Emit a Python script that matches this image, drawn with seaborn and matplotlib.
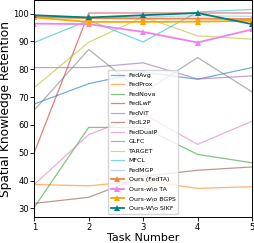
import seaborn as sns
import pandas as pd
import matplotlib
matplotlib.use("Agg")
import matplotlib.pyplot as plt

# values
tasks = [1, 2, 3, 4, 5]

fedavg = [67.5, 74.8, 79.0, 76.4, 80.6]
fedprox = [38.6, 38.1, 40.0, 37.2, 37.8]
fednova = [30.4, 59.1, 59.1, 49.4, 46.4]
fedlwf = [50.1, 100.2, 100.2, 100.2, 100.2]
fedvit = [80.6, 80.6, 82.3, 76.5, 77.6]
fedl2p = [31.8, 34.0, 41.5, 43.7, 44.9]
feddualp = [38.6, 56.5, 64.0, 53.0, 61.3]
glfc = [65.3, 87.1, 71.5, 84.2, 71.9]
target = [73.4, 89.7, 98.8, 92.0, 90.8]
mfcl = [89.6, 97.6, 89.8, 100.6, 101.5]
fedmgp = [98.8, 98.2, 98.8, 99.2, 99.0]
ours = [98.8, 98.4, 98.2, 98.2, 98.0]
ours_wo_ta = [96.4, 96.2, 93.4, 89.6, 94.3]
ours_wo_bgps = [98.6, 97.0, 97.0, 97.1, 97.4]
ours_wo_sikf = [99.4, 98.6, 99.4, 100.2, 96.2]

baselines = [
    ("FedAvg", fedavg, "tab:blue", 0.6),
    ("FedProx", fedprox, "tab:orange", 0.6),
    ("FedNova", fednova, "tab:green", 0.6),
    ("FedLwF", fedlwf, "tab:red", 0.6),
    ("FedViT", fedvit, "tab:purple", 0.6),
    ("FedL2P", fedl2p, "tab:brown", 0.6),
    ("FedDualP", feddualp, "tab:pink", 0.6),
    ("GLFC", glfc, "tab:gray", 0.6),
    ("TARGET", target, "tab:olive", 0.6),
    ("MFCL", mfcl, "tab:cyan", 0.6),
    ("FedMGP", fedmgp, "tab:blue", 0.3),
]

ours_lines = [
    ("Ours (FedTA)", ours, "#f5853f"),
    ("Ours-w\\o TA", ours_wo_ta, "violet"),
    ("Ours-w\\o BGPS", ours_wo_bgps, "orange"),
    ("Ours-W\\o SIKF", ours_wo_sikf, "teal"),
]

fig = plt.figure(figsize=(2.54, 2.43), dpi=100)
ax = fig.add_axes([0.135, 0.108, 0.857, 0.89])

for name, vals, col, a in baselines:
    sns.lineplot(x=tasks, y=vals, ax=ax, label=name, color=col, alpha=a, linewidth=0.9)

for name, vals, col in ours_lines:
    sns.lineplot(x=tasks, y=vals, ax=ax, label=name, color=col, linewidth=1.3,
                 marker="^", markersize=4.5, markeredgewidth=0)

ax.set_xlim(1, 5)
ax.set_ylim(27.0, 104.7)
ax.set_xticks(tasks)
ax.set_yticks([30, 40, 50, 60, 70, 80, 90, 100])
ax.tick_params(labelsize=6, length=3, width=0.6)
ax.tick_params(axis="x", pad=1.5)
ax.tick_params(axis="y", pad=1)
for s in ax.spines.values():
    s.set_linewidth(0.7)

ax.set_xlabel("Task Number", fontsize=8, labelpad=1)
ax.set_ylabel("Spatial Knowledge Retention", fontsize=8.8, labelpad=0.5)

ax.legend(loc="lower center", fontsize=4.5, handlelength=2.0, labelspacing=0.66,
          borderpad=0.45, frameon=True, framealpha=0.8)

fig.savefig("out.png", dpi=100)
